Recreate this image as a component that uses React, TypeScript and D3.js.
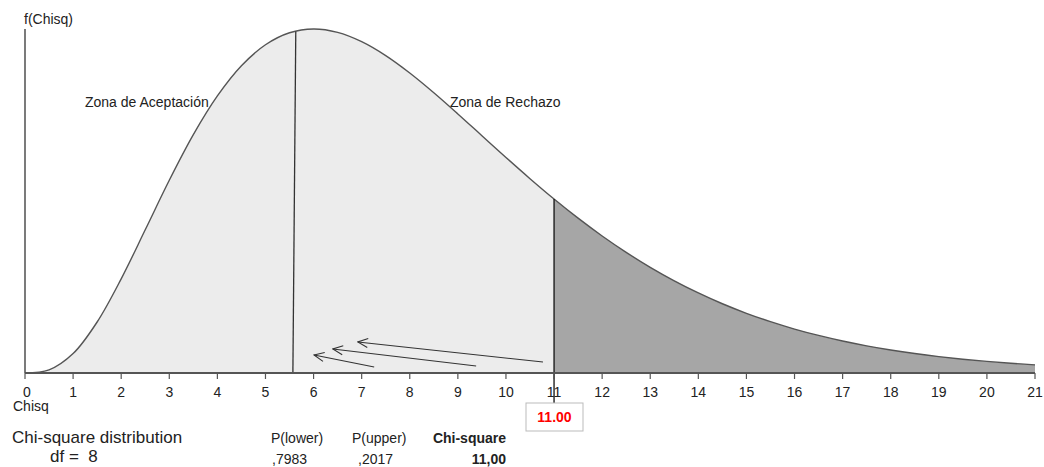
import React from "react";
import * as d3 from "d3";

const chisqX = [0, 0.5, 1, 1.5, 2, 2.5, 3, 3.5, 4, 4.5, 5, 5.5, 6, 6.5, 7, 7.5, 8, 8.5, 9, 9.5, 10, 10.5, 11, 11.5, 12, 12.5, 13, 13.5, 14, 14.5, 15, 15.5, 16, 16.5, 17, 17.5, 18, 18.5, 19, 19.5, 20, 20.5, 21];
const density = [0, 0.00101, 0.00632, 0.01661, 0.03066, 0.04663, 0.06276, 0.07761, 0.09022, 0.10005, 0.10688, 0.11079, 0.11202, 0.11092, 0.10789, 0.10335, 0.09768, 0.09125, 0.08436, 0.07727, 0.07019, 0.06328, 0.05666, 0.05042, 0.04462, 0.03928, 0.03441, 0.03001, 0.02607, 0.02255, 0.01944, 0.01671, 0.01431, 0.01223, 0.01041, 0.00885, 0.00750, 0.00634, 0.00535, 0.00450, 0.00378, 0.00317, 0.00266];
const tickValues = d3.range(0, 22);
const criticalValue = 11;
const splitLine = [5.63, 5.57]; // top x, bottom x of the slanted divider
// arrows: [x1, y1, x2, y2] in data units (tail -> head)
const arrows = [
  [10.77, 0.00358, 6.92, 0.0101],
  [9.38, 0.00228, 6.4, 0.00781],
  [7.26, 0.00195, 6.01, 0.00586],
];
const zoneLabels = ["Zona de Aceptación", "Zona de Rechazo"];
const statHeaders = ["P(lower)", "P(upper)", "Chi-square"];
const statValues = [",7983", ",2017", "11,00"];
const dfValue = 8;

const font = "'Liberation Sans', Arial, Helvetica, sans-serif";

export default function App() {
  const W = 1044, H = 467;
  const x = d3.scaleLinear().domain([0, 21]).range([25, 1035]);
  const yMax = d3.max(density) as number;
  const y = d3.scaleLinear().domain([0, yMax]).range([373, 29]);
  const pts = chisqX.map((v, i) => ({ x: v, y: density[i] }));
  const left = pts.filter((p) => p.x <= criticalValue);
  const right = pts.filter((p) => p.x >= criticalValue);
  const area = d3
    .area<{ x: number; y: number }>()
    .x((d) => x(d.x))
    .y0(y(0))
    .y1((d) => y(d.y))
    .curve(d3.curveCatmullRom);
  const line = d3
    .line<{ x: number; y: number }>()
    .x((d) => x(d.x))
    .y((d) => y(d.y))
    .curve(d3.curveCatmullRom);
  const critY = density[chisqX.indexOf(criticalValue)];
  const splitTopY = 0.1112;

  return (
    <svg width={W} height={H} style={{ position: "absolute", left: 0, top: 0, background: "#fff" }} fontFamily={font}>
      <defs>
        <marker id="arr" viewBox="0 -6 12 12" refX={11} refY={0} markerWidth={12} markerHeight={12} markerUnits="userSpaceOnUse" orient="auto">
          <path d="M1,-4.5 L11,0 L1,4.5" fill="none" stroke="#333" strokeWidth={1.1} />
        </marker>
      </defs>
      <path d={area(left) || ""} fill="#ececec" />
      <path d={area(right) || ""} fill="#a6a6a6" />
      <path d={line(pts) || ""} fill="none" stroke="#555" strokeWidth={1.4} />
      {/* divider in acceptance zone */}
      <line x1={x(splitLine[0])} y1={y(splitTopY)} x2={x(splitLine[1])} y2={y(0)} stroke="#333" strokeWidth={1.3} />
      {/* critical value line */}
      <line x1={x(criticalValue)} y1={y(critY)} x2={x(criticalValue)} y2={403} stroke="#111" strokeWidth={1.3} />
      {arrows.map((a, i) => (
        <line key={i} x1={x(a[0])} y1={y(a[1])} x2={x(a[2])} y2={y(a[3])} stroke="#333" strokeWidth={1.1} markerEnd="url(#arr)" />
      ))}
      {/* y axis */}
      <line x1={25} y1={29} x2={25} y2={373} stroke="#222" strokeWidth={1.2} />
      <text x={24} y={24} fontSize={14} fill="#222">f(Chisq)</text>
      {/* x axis */}
      <line x1={x(0)} y1={373} x2={x(21)} y2={373} stroke="#555" strokeWidth={2} />
      {tickValues.map((t) => (
        <g key={t}>
          <line x1={x(t)} y1={373} x2={x(t)} y2={379} stroke="#555" strokeWidth={1.2} />
          <text x={x(t) + (t === 0 ? 2 : 0)} y={397} fontSize={14} textAnchor="middle" fill="#222">{t}</text>
        </g>
      ))}
      <text x={13} y={411} fontSize={14} fill="#222">Chisq</text>
      <text x={85} y={107} fontSize={14} fill="#222">{zoneLabels[0]}</text>
      <text x={450} y={107} fontSize={14} fill="#222">{zoneLabels[1]}</text>
      {/* critical value box */}
      <rect x={526} y={403} width={57} height={28} fill="#fff" stroke="#bbb" strokeWidth={1} />
      <text x={554.5} y={422} fontSize={14} fontWeight="bold" textAnchor="middle" fill="#f00">{criticalValue.toFixed(2)}</text>
      {/* bottom info */}
      <text x={12} y={443} fontSize={17} fill="#222">Chi-square distribution</text>
      <text x={50} y={462} fontSize={17} fill="#222" xmlSpace="preserve">{`df =  ${dfValue}`}</text>
      <text x={271} y={443} fontSize={14} fill="#222">{statHeaders[0]}</text>
      <text x={352} y={443} fontSize={14} fill="#222">{statHeaders[1]}</text>
      <text x={506} y={443} fontSize={14} fontWeight="bold" textAnchor="end" fill="#222">{statHeaders[2]}</text>
      <text x={272} y={464} fontSize={14} fill="#222">{statValues[0]}</text>
      <text x={358} y={464} fontSize={14} fill="#222">{statValues[1]}</text>
      <text x={506} y={464} fontSize={14} fontWeight="bold" textAnchor="end" fill="#222">{statValues[2]}</text>
    </svg>
  );
}
